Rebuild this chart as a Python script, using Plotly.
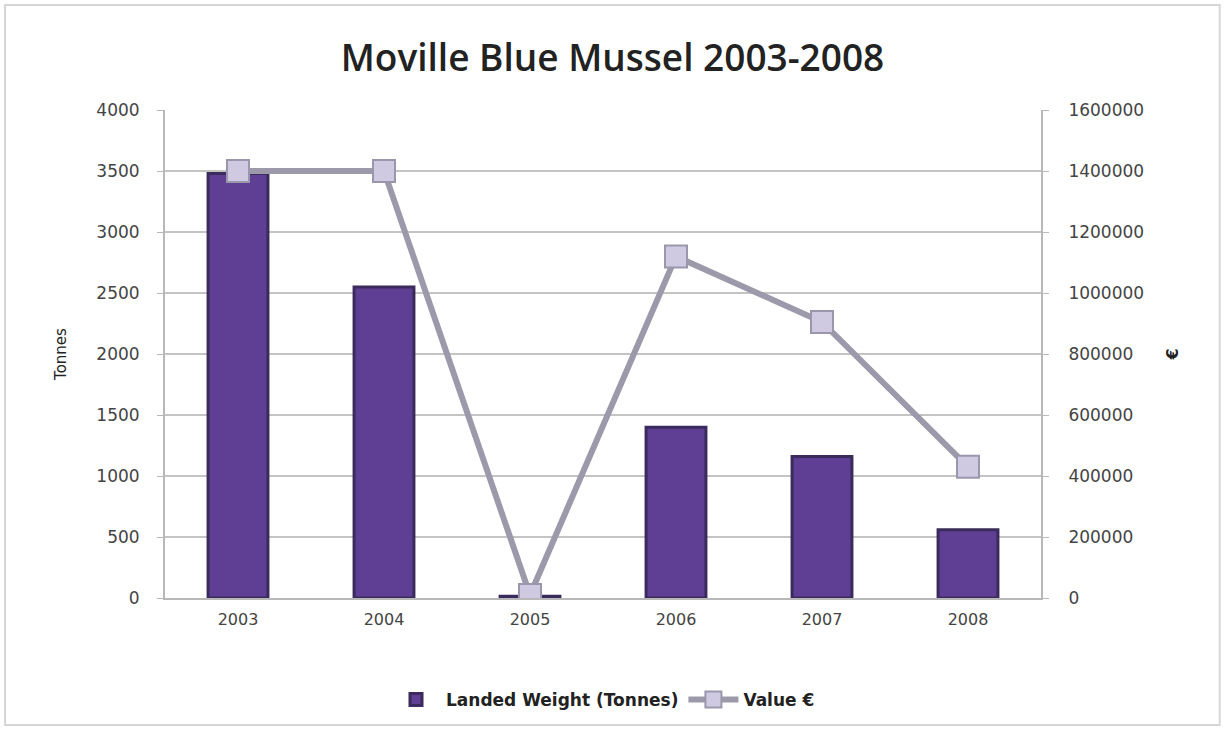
import plotly.graph_objects as go

years = ["2003", "2004", "2005", "2006", "2007", "2008"]
landed_tonnes = [3480, 2550, 15, 1400, 1160, 560]
value_eur = [1400000, 1400000, 10000, 1120000, 905000, 430000]

left_ticks = list(range(0, 4001, 500))
right_ticks = list(range(0, 1600001, 200000))

font_family = "'DejaVu Sans', sans-serif"
title_family = "'Open Sans', sans-serif"

fig = go.Figure()

fig.add_trace(go.Bar(
    x=years, y=landed_tonnes, name="<b>Landed Weight (Tonnes)</b>",
    marker=dict(color="#5e3f93", line=dict(color="#3b2b5c", width=3)),
    width=0.41, yaxis="y",
))

fig.add_trace(go.Scatter(
    x=years, y=value_eur, name="<b>Value €</b>", yaxis="y2",
    mode="lines+markers",
    line=dict(color="#9b99aa", width=6),
    marker=dict(symbol="square", size=22, color="#cfcae2",
                line=dict(color="#9a97ad", width=2)),
))

fig.update_layout(
    width=1225, height=732,
    margin=dict(l=165, r=184, t=110, b=134),
    paper_bgcolor="white", plot_bgcolor="white",
    font=dict(family=font_family, color="#333333", size=15),
    title=dict(text="Moville Blue Mussel 2003-2008", x=0.5,
               xanchor="center", y=0.921, yanchor="middle",
               font=dict(size=37, color="#222222", family=title_family,
                         weight=600)),
    xaxis=dict(type="category", showgrid=False, showline=True,
               linecolor="#b8b8b8", linewidth=2, ticks="",
               tickfont=dict(size=16, color="#444444"), ticklabelstandoff=6),
    yaxis=dict(range=[0, 4000], tickvals=left_ticks, showgrid=True,
               gridcolor="#c4c4c4", gridwidth=1.5, showline=True,
               linecolor="#b8b8b8", linewidth=2, ticks="outside",
               ticklen=6, tickcolor="#b8b8b8", zeroline=False,
               ticklabelstandoff=14,
               tickfont=dict(size=17, color="#444444"),
               title=dict(text="Tonnes",
                          font=dict(size=15, color="#222222"),
                          standoff=26)),
    yaxis2=dict(range=[0, 1600000], tickvals=right_ticks, overlaying="y",
                side="right", showgrid=False, showline=True,
                linecolor="#b8b8b8", linewidth=2, ticks="outside",
                ticklen=6, tickcolor="#b8b8b8", zeroline=False,
                tickformat="d", ticklabelstandoff=16,
                tickfont=dict(size=17, color="#444444"),
                title=dict(text="<b>€</b>",
                           font=dict(size=16, color="#222222"),
                           standoff=24)),
    legend=dict(orientation="h", x=0.5, xanchor="center", y=-0.209,
                yanchor="middle", font=dict(size=17, color="#222222"),
                bgcolor="rgba(0,0,0,0)", itemwidth=50),
    bargap=0.59,
)

# light frame round the whole chart area
fig.add_shape(type="rect", xref="paper", yref="paper",
              x0=-0.1826, x1=1.204, y0=-0.26, y1=1.215,
              line=dict(color="#d6d6d6", width=2))

fig.write_html("out.html")
